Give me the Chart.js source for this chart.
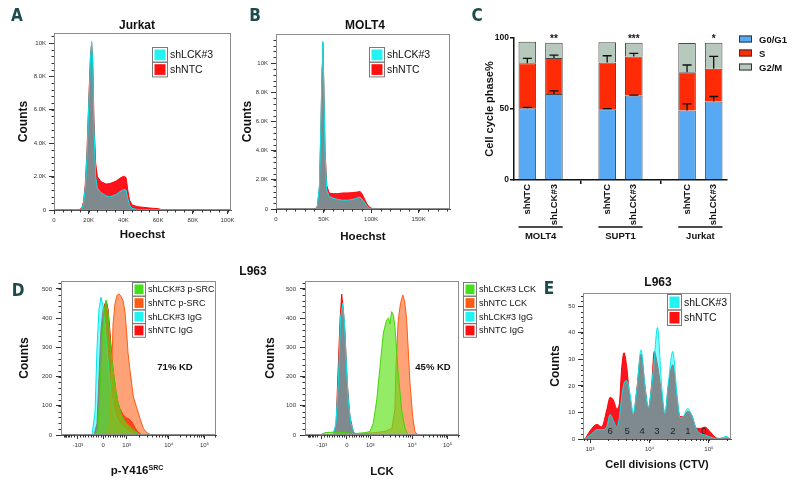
<!DOCTYPE html>
<html>
<head>
<meta charset="utf-8">
<script src="https://cdn.jsdelivr.net/npm/chart.js@4.4.1/dist/chart.umd.min.js"></script>
<style>
body { margin: 0; background: #fff; }
#page { position: relative; width: 795px; height: 481px; overflow: hidden; font-family: "Liberation Sans", Arial, sans-serif; color: #111; }
canvas { position: absolute; }
.lbl { position: absolute; white-space: nowrap; transform: translate(-50%, -50%); }
.letter { font-family: "DejaVu Sans Condensed", "DejaVu Sans", sans-serif; font-weight: bold; font-size: 17px; color: #1d4b4c; }
.ttl { font-weight: bold; font-size: 12px; }
.axt { font-weight: bold; font-size: 11.5px; }
.axt sup { font-size: 7px; }
</style>
</head>
<body>
<div id="page">
  <canvas id="chartA" width="245" height="250" style="left:0;top:0"></canvas>
  <canvas id="chartB" width="225" height="250" style="left:237px;top:0"></canvas>
  <canvas id="chartC" width="317" height="250" style="left:478px;top:0"></canvas>
  <canvas id="chartD1" width="230" height="219" style="left:0;top:262px"></canvas>
  <canvas id="chartD2" width="280" height="219" style="left:262px;top:262px"></canvas>
  <canvas id="chartE" width="255" height="219" style="left:540px;top:262px"></canvas>

  <div class="lbl letter" style="left:17px;top:15px">A</div>
  <div class="lbl letter" style="left:255px;top:15px">B</div>
  <div class="lbl letter" style="left:477px;top:15px">C</div>
  <div class="lbl letter" style="left:18px;top:290px">D</div>
  <div class="lbl letter" style="left:549px;top:288px">E</div>

  <div class="lbl ttl" style="left:137px;top:25px">Jurkat</div>
  <div class="lbl ttl" style="left:365px;top:25px">MOLT4</div>
  <div class="lbl ttl" style="left:253px;top:271px">L963</div>
  <div class="lbl ttl" style="left:658px;top:282px">L963</div>
  <div class="lbl axt" style="left:137px;top:470px">p-Y416<sup>SRC</sup></div>
</div>

<script>
const FONT = '"Liberation Sans", Arial, sans-serif';
Chart.defaults.font.family = FONT;
Chart.defaults.color = '#222';

// ===============================
// Data
// ===============================

// A: Jurkat, Hoechst (K) vs counts (K)
const jurkatX   = [0, 14, 16, 17, 18, 19, 20, 21, 21.7, 22.3, 23, 24, 25, 27, 30, 32, 34, 36, 38, 40, 41.5, 42.5, 43.5, 45, 48, 55, 60, 62, 70, 102];
const jurkatNTC = [0, 0, 0.1, 0.5, 1.5, 3.5, 6.5, 9.2, 10.0, 9.0, 5.5, 2.8, 2.0, 1.7, 1.55, 1.58, 1.65, 1.75, 1.9, 2.02, 1.95, 1.2, 0.6, 0.3, 0.2, 0.12, 0.08, 0.02, 0, 0];
const jurkatLCK = [0, 0, 0.05, 0.4, 1.3, 3.2, 6.2, 9.0, 10.1, 8.8, 5.0, 2.0, 1.3, 1.05, 0.85, 0.8, 0.85, 0.95, 1.1, 1.22, 1.2, 0.7, 0.3, 0.1, 0.03, 0.02, 0.01, 0, 0, 0];
const jurkatXTicks = [0, 20, 40, 60, 80, 100];
const jurkatXLabels = ['0', '20K', '40K', '60K', '80K', '100K'];

// B: MOLT4
const molt4X   = [0, 40, 42, 43.5, 45.7, 47.1, 48.5, 49.2, 50.3, 51.6, 53.4, 55.9, 60, 65, 70, 75, 80, 84, 87, 88.5, 90.3, 93.8, 95.6, 97.3, 99, 100.8, 104, 183];
const molt4NTC = [0, 0, 0.05, 0.2, 1.5, 5.2, 9.7, 11.4, 8.6, 4.0, 1.6, 1.1, 1.05, 1.05, 1.1, 1.1, 1.12, 1.15, 1.18, 1.2, 1.05, 0.6, 0.35, 0.2, 0.1, 0.05, 0, 0];
const molt4LCK = [0, 0, 0.05, 0.2, 1.6, 5.5, 10, 11.5, 8.5, 3.8, 1.3, 0.85, 0.75, 0.65, 0.6, 0.6, 0.65, 0.72, 0.8, 0.82, 0.7, 0.4, 0.2, 0.1, 0.03, 0.01, 0, 0];
const molt4XTicks = [0, 50, 100, 150];
const molt4XLabels = ['0', '50K', '100K', '150K'];

const countKTicks = [0, 2, 4, 6, 8, 10];
const countKLabels = ['0', '2.0K', '4.0K', '6.0K', '8.0K', '10K'];

// C: cell cycle phases (%)
const cycleLabels = ['shNTC', 'shLCK#3', '', 'shNTC', 'shLCK#3', '', 'shNTC', 'shLCK#3'];
const cycleGroups = ['MOLT4', 'SUPT1', 'Jurkat'];
const g0g1   = [50.6, 60.5, null, 49.9, 59.5, null, 48.9, 55.2];
const sPhase = [31.6, 25.5, null, 32.9, 27.5, null, 26.9, 23.1];
const g2m    = [15.2, 10.7, null, 14.2, 9.7, null, 20.7, 18.4];
const g0g1Err   = [0.5, 2.3, null, 0.3, 0.3, null, 4.7, 3.6];
const sPhaseErr = [3.5, 2.0, null, 4.7, 2.2, null, 5.2, 8.7];
const cycleStars = ['', '**', '', '', '***', '', '', '*'];

// D: flow, x in display channels (0-1024, biexponential)
const flowXTicks = [112, 278, 434, 712, 948];
const flowXLabels = ['-10\u00b3', '0', '10\u00b3', '10\u2074', '10\u2075'];
const flowYTicks = [0, 100, 200, 300, 400, 500];

const srcLckX   = [225, 244, 258, 271, 284, 297, 311, 324, 337, 350, 363, 377, 390, 403, 423, 443, 462, 482, 509, 535];
const srcLckY   = [0, 20, 150, 330, 420, 462, 420, 330, 250, 200, 150, 110, 85, 65, 45, 35, 25, 15, 5, 0];
const srcNtcX   = [311, 324, 334, 344, 357, 370, 383, 396, 410, 423, 434, 443, 456, 478, 496, 511, 529, 544, 562, 577, 601];
const srcNtcY   = [0, 40, 200, 380, 450, 478, 483, 475, 460, 420, 349, 280, 220, 131, 100, 75, 45, 23, 10, 5, 0];
const srcIgLckX = [205, 225, 238, 251, 264, 278, 291, 304, 317, 330, 344, 363, 390, 423, 456, 489];
const srcIgLckY = [0, 80, 300, 430, 472, 440, 380, 300, 220, 150, 100, 60, 35, 20, 8, 0];
const srcIgNtcX = [218, 238, 251, 264, 278, 291, 301, 311, 324, 337, 350, 363, 377, 390, 410, 429, 449, 469, 489, 509, 535];
const srcIgNtcY = [0, 40, 200, 360, 430, 450, 456, 430, 350, 260, 200, 150, 110, 90, 70, 60, 55, 45, 25, 10, 0];

const lckLckX   = [100, 133, 199, 266, 332, 399, 432, 454, 477, 499, 521, 543, 555, 565, 576, 588, 598, 620, 643, 665, 685];
const lckLckY   = [0, 8, 10, 8, 5, 8, 12, 40, 120, 234, 349, 394, 400, 380, 422, 410, 371, 211, 86, 23, 0];
const lckNtcX   = [299, 366, 465, 532, 578, 598, 605, 620, 635, 650, 662, 676, 698, 716, 731, 753];
const lckNtcY   = [0, 4, 8, 12, 23, 90, 234, 394, 450, 479, 460, 394, 177, 63, 11, 0];
const lckIgLckX = [186, 206, 223, 236, 251, 263, 276, 289, 306, 326, 346];
const lckIgLckY = [0, 40, 200, 400, 451, 380, 230, 110, 40, 8, 0];
const lckIgNtcX = [186, 206, 221, 233, 244, 256, 266, 281, 299, 321, 346];
const lckIgNtcY = [0, 30, 234, 394, 482, 420, 349, 177, 63, 11, 0];

// E: CTV dilution
const ctvX   = [820, 1070, 1300, 1570, 1910, 2170, 2460, 2810, 3110, 3410, 3730, 4140, 4700, 5340, 6090, 7200, 8400, 9550, 10900, 12000, 13600, 16000, 18200, 20700, 24600, 28700, 32600, 37000, 43900, 51200, 62100, 72600, 85700, 104000, 126000, 153000, 198000, 225000];
const ctvNTC = [0, 4, 5.5, 4.6, 11, 15.7, 14.7, 11.5, 13.4, 27, 32.5, 27, 14.7, 9, 18.4, 32, 19.7, 11.5, 21, 33, 28, 17, 9, 20, 28, 16, 8.4, 8.4, 10.5, 9, 4, 4, 4.5, 2.8, 0.8, 0, 0.5, 0];
const ctvLCK = [0, 2, 3.5, 3.5, 4.6, 9.2, 7, 4.5, 8, 16, 21, 22, 17, 10, 18, 33.5, 19.7, 12, 20, 30, 42, 20, 9.5, 21, 33, 18, 8, 8.5, 11.5, 9, 3.5, 2, 1.5, 0.8, 0.3, 0.3, 1, 0];
const ctvXTicks = [1000, 10000, 100000];
const ctvXLabels = ['10\u00b3', '10\u2074', '10\u2075'];
const ctvYTicks = [0, 10, 20, 30, 40, 50];
const divisionLabels = ['6', '5', '4', '3', '2', '1', '0'];
const divisionPos = [2170, 4190, 7480, 13360, 24800, 44400, 82400];

// ===============================
// Small plugins
// ===============================
const frame = {
    id: 'frame',
    afterDatasetsDraw(chart, args, o) {
        if (!o.color) return;
        const a = chart.chartArea, ctx = chart.ctx;
        ctx.save();
        ctx.strokeStyle = o.color;
        ctx.lineWidth = 1;
        ctx.strokeRect(a.left + 0.5, a.top + 0.5, a.right - a.left - 1, a.bottom - a.top - 1);
        ctx.restore();
    }
};

const minorTicks = {
    id: 'minorTicks',
    afterDraw(chart, args, o) {
        const ctx = chart.ctx, a = chart.chartArea;
        const xs = chart.scales.x, ys = chart.scales.y;
        const len = o.len || 2.5;
        const xTick = p => {
            p = Math.round(p) + 0.5;
            ctx.beginPath(); ctx.moveTo(p, a.bottom); ctx.lineTo(p, a.bottom + len); ctx.stroke();
        };
        ctx.save();
        ctx.strokeStyle = '#333';
        ctx.lineWidth = 1;
        if (o.yStep) {
            for (let v = Math.ceil(ys.min / o.yStep) * o.yStep; v <= ys.max; v += o.yStep) {
                const p = Math.round(ys.getPixelForValue(v)) + 0.5;
                ctx.beginPath(); ctx.moveTo(a.left, p); ctx.lineTo(a.left - len, p); ctx.stroke();
            }
        }
        if (o.xStep) {
            for (let v = Math.ceil(xs.min / o.xStep) * o.xStep; v <= xs.max; v += o.xStep) {
                xTick(xs.getPixelForValue(v));
            }
        }
        if (o.xLog) {
            for (let d = 100; d <= 1e6; d *= 10) {
                for (let k = 1; k < 10; k++) {
                    const v = d * k;
                    if (v < xs.min || v > xs.max) continue;
                    xTick(xs.getPixelForValue(v));
                }
            }
        }
        // biexponential axis: linear minors around zero, log minors per decade
        if (o.xBiex) {
            const t = o.xBiex;
            for (let k = 1; k < 10; k++) {
                xTick(xs.getPixelForValue(t[0] + (t[1] - t[0]) * k / 10));
                xTick(xs.getPixelForValue(t[1] + (t[2] - t[1]) * k / 10));
            }
            for (let j = 2; j < t.length; j++) {
                const span = j < t.length - 1 ? t[j + 1] - t[j] : t[j] - t[j - 1];
                for (let k = 2; k < 10; k++) {
                    const v = t[j] + span * Math.log10(k);
                    if (v <= xs.max) xTick(xs.getPixelForValue(v));
                }
            }
            for (let k = 2; k < 10; k++) {
                xTick(xs.getPixelForValue(t[0] - (t[3] - t[2]) * Math.log10(k) * 0.35));
            }
        }
        ctx.restore();
    }
};

const swatchLegend = {
    id: 'swatchLegend',
    afterDraw(chart, args, o) {
        if (!o.items) return;
        const ctx = chart.ctx;
        ctx.save();
        o.items.forEach((it, i) => {
            const top = o.y + i * o.row;
            let textX;
            if (o.cell) {
                ctx.strokeStyle = '#7a7a7a';
                ctx.lineWidth = 1;
                ctx.strokeRect(o.x + 0.5, top + 0.5, o.cell, o.row);
                ctx.fillStyle = it.color;
                ctx.fillRect(o.x + 2.5, top + 2.5, o.cell - 4, o.row - 4);
                textX = o.x + o.cell + o.gap;
            } else {
                const sy = top + (o.row - o.sh) / 2;
                ctx.fillStyle = it.color;
                ctx.fillRect(o.x, sy, o.sw, o.sh);
                ctx.strokeStyle = '#333';
                ctx.lineWidth = 1;
                ctx.strokeRect(o.x + 0.5, sy + 0.5, o.sw - 1, o.sh - 1);
                textX = o.x + o.sw + o.gap;
            }
            ctx.fillStyle = '#111';
            ctx.font = o.font;
            ctx.textAlign = 'left';
            ctx.textBaseline = 'middle';
            ctx.fillText(it.label, textX, top + o.row / 2 + 1);
        });
        ctx.restore();
    }
};

const notes = {
    id: 'notes',
    afterDraw(chart, args, o) {
        if (!o.items) return;
        const ctx = chart.ctx;
        o.items.forEach(n => {
            ctx.save();
            ctx.font = n.font;
            ctx.fillStyle = n.color || '#111';
            ctx.textAlign = n.align || 'center';
            ctx.textBaseline = n.baseline || 'middle';
            const px = n.px !== undefined ? n.px : chart.scales.x.getPixelForValue(n.x);
            const py = n.py !== undefined ? n.py : chart.scales.y.getPixelForValue(n.y);
            ctx.fillText(n.text, px, py);
            ctx.restore();
        });
    }
};

const errorBars = {
    id: 'errorBars',
    afterDatasetsDraw(chart, args, o) {
        if (!o.errors) return;
        const ctx = chart.ctx, ys = chart.scales.y;
        const unit = ys.getPixelForValue(0) - ys.getPixelForValue(1);
        ctx.save();
        ctx.strokeStyle = '#111';
        ctx.lineWidth = 1.3;
        o.errors.forEach((errs, di) => {
            const meta = chart.getDatasetMeta(di);
            errs.forEach((e, i) => {
                if (!e) return;
                const bar = meta.data[i];
                const end = bar.y - e * unit;
                ctx.beginPath();
                ctx.moveTo(bar.x, bar.y);
                ctx.lineTo(bar.x, end);
                ctx.moveTo(bar.x - 4.5, end);
                ctx.lineTo(bar.x + 4.5, end);
                ctx.stroke();
            });
        });
        ctx.restore();
    }
};

const groupLabels = {
    id: 'groupLabels',
    afterDraw(chart, args, o) {
        if (!o.groups) return;
        const ctx = chart.ctx;
        const meta = chart.getDatasetMeta(0);
        ctx.save();
        o.groups.forEach(g => {
            const b0 = meta.data[g.from], b1 = meta.data[g.to];
            const l = b0.x - b0.width / 2, r = b1.x + b1.width / 2;
            ctx.strokeStyle = '#111';
            ctx.lineWidth = 1.5;
            ctx.beginPath(); ctx.moveTo(l, o.lineY); ctx.lineTo(r, o.lineY); ctx.stroke();
            ctx.fillStyle = '#111';
            ctx.font = o.font;
            ctx.textAlign = 'center';
            ctx.textBaseline = 'middle';
            ctx.fillText(g.label, (l + r) / 2, o.textY);
        });
        ctx.restore();
    }
};

// ===============================
// Helpers
// ===============================
function area(label, xs, ys, line, fill, smooth) {
    return {
        label: label,
        data: xs.map((x, i) => ({ x: x, y: ys[i] })),
        borderColor: line,
        backgroundColor: fill,
        borderWidth: 1,
        pointRadius: 0,
        tension: 0,
        cubicInterpolationMode: smooth ? 'monotone' : 'default',
        fill: 'origin'
    };
}

function histChart(id, c) {
    return new Chart(document.getElementById(id), {
        type: 'line',
        data: { datasets: c.datasets },
        plugins: [frame, minorTicks, swatchLegend, notes],
        options: {
            responsive: false,
            animation: false,
            events: [],
            layout: { padding: c.padding },
            scales: {
                x: {
                    type: c.xType || 'linear',
                    min: c.xMin,
                    max: c.xMax,
                    afterFit: s => { s.height = c.xHeight; },
                    afterBuildTicks: s => { s.ticks = c.xTicks.map(v => ({ value: v })); },
                    ticks: {
                        autoSkip: false, maxRotation: 0,
                        callback: (v, i) => c.xLabels[i],
                        font: { size: 6 }, color: '#333', padding: 3
                    },
                    grid: { drawOnChartArea: false, tickLength: 4, color: '#333' },
                    border: { color: '#555', width: 1 },
                    title: {
                        display: !!c.xTitle, text: c.xTitle, color: '#111',
                        font: { size: c.xTitleSize || 11.5, weight: 'bold' },
                        padding: { top: 0, bottom: c.xTitlePad }
                    }
                },
                y: {
                    type: 'linear',
                    min: 0,
                    max: c.yMax,
                    afterFit: s => { s.width = c.yWidth; },
                    afterBuildTicks: s => { s.ticks = c.yTicks.map(v => ({ value: v })); },
                    ticks: {
                        autoSkip: false,
                        callback: (v, i) => c.yLabels[i],
                        font: { size: 6 }, color: '#333', padding: c.yTickPad || 3
                    },
                    grid: { drawOnChartArea: false, tickLength: 5, color: '#333' },
                    border: { color: '#555', width: 1 },
                    title: {
                        display: true, text: 'Counts', color: '#111',
                        font: { size: 12, weight: 'bold' },
                        padding: { top: c.yTitlePad, bottom: 0 }
                    }
                }
            },
            plugins: {
                legend: { display: false },
                tooltip: { enabled: false },
                frame: { color: '#8c8c8c' },
                minorTicks: c.minor || {},
                swatchLegend: c.legend,
                notes: { items: c.notes || [] }
            }
        }
    });
}

const CYAN_LINE = 'rgb(0,230,235)', CYAN_FILL = 'rgba(0,255,255,0.5)';
const RED_LINE = 'rgb(255,0,0)', RED_FILL = 'rgb(255,20,30)';

// ===============================
// A: Jurkat
// ===============================
histChart('chartA', {
    datasets: [
        area('shLCK#3', jurkatX, jurkatLCK, CYAN_LINE, CYAN_FILL),
        area('shNTC', jurkatX, jurkatNTC, RED_LINE, RED_FILL)
    ],
    padding: { top: 33, right: 14, left: 0, bottom: 0 },
    xMin: 0, xMax: 102, xHeight: 40, xTicks: jurkatXTicks, xLabels: jurkatXLabels,
    xTitle: 'Hoechst', xTitlePad: 8,
    yMax: 10.6, yWidth: 54, yTicks: countKTicks, yLabels: countKLabels, yTitlePad: 16,
    minor: { xStep: 5, yStep: 0.4 },
    legend: {
        x: 152, y: 47, cell: 15, row: 14.7, gap: 3, font: '10.5px ' + FONT,
        items: [{ label: 'shLCK#3', color: '#22f2f2' }, { label: 'shNTC', color: '#ff1010' }]
    }
});

// ===============================
// B: MOLT4
// ===============================
histChart('chartB', {
    datasets: [
        area('shLCK#3', molt4X, molt4LCK, CYAN_LINE, CYAN_FILL),
        area('shNTC', molt4X, molt4NTC, RED_LINE, RED_FILL)
    ],
    padding: { top: 34, right: 12, left: 0, bottom: 0 },
    xMin: 0, xMax: 183, xHeight: 41, xTicks: molt4XTicks, xLabels: molt4XLabels,
    xTitle: 'Hoechst', xTitlePad: 6,
    yMax: 12, yWidth: 39, yTicks: countKTicks, yLabels: countKLabels, yTitlePad: 3,
    minor: { xStep: 10, yStep: 0.4 },
    legend: {
        x: 132, y: 47, cell: 15, row: 14.7, gap: 3, font: '10.5px ' + FONT,
        items: [{ label: 'shLCK#3', color: '#22f2f2' }, { label: 'shNTC', color: '#ff1010' }]
    }
});

// ===============================
// C: Cell cycle (stacked bars)
// ===============================
const BLUE = '#56a9f2', RED = '#ff2a06', SAGE = '#b7c9bd';
new Chart(document.getElementById('chartC'), {
    type: 'bar',
    data: {
        labels: cycleLabels,
        datasets: [
            { label: 'G0/G1', data: g0g1, backgroundColor: BLUE, borderColor: '#4a4a4a', borderWidth: 1 },
            { label: 'S', data: sPhase, backgroundColor: RED, borderColor: '#4a4a4a', borderWidth: 1 },
            { label: 'G2/M', data: g2m, backgroundColor: SAGE, borderColor: '#4a4a4a', borderWidth: 1 }
        ]
    },
    plugins: [errorBars, swatchLegend, notes, groupLabels],
    options: {
        responsive: false,
        animation: false,
        events: [],
        layout: { padding: { top: 38, right: 68, left: 0, bottom: 0 } },
        datasets: { bar: { categoryPercentage: 1, barPercentage: 0.66 } },
        scales: {
            x: {
                stacked: true,
                afterFit: s => { s.height = 70; },
                ticks: {
                    autoSkip: false, minRotation: 90, maxRotation: 90,
                    font: { size: 9.5, weight: 'bold' }, color: '#111', padding: 0
                },
                grid: {
                    offset: false, drawOnChartArea: false, tickLength: 4, lineWidth: 1.5,
                    color: ctx => (cycleLabels[ctx.index] === '' ? '#111' : 'rgba(0,0,0,0)')
                },
                border: { color: '#111', width: 1.5 }
            },
            y: {
                stacked: true,
                min: 0,
                max: 100,
                afterFit: s => { s.width = 36; },
                afterBuildTicks: s => { s.ticks = [0, 50, 100].map(v => ({ value: v })); },
                ticks: { font: { size: 8.5, weight: 'bold' }, color: '#111', padding: 1 },
                grid: { drawOnChartArea: false, tickLength: 4, lineWidth: 1.5, color: '#111' },
                border: { color: '#111', width: 1.5 },
                title: {
                    display: true, text: 'Cell cycle phase%', color: '#111',
                    font: { size: 11, weight: 'bold' }, padding: { top: 5, bottom: 0 }
                }
            }
        },
        plugins: {
            legend: { display: false },
            tooltip: { enabled: false },
            errorBars: { errors: [g0g1Err, sPhaseErr] },
            swatchLegend: {
                x: 261, y: 32, row: 14, sw: 13, sh: 7, gap: 7, font: 'bold 9.5px ' + FONT,
                items: [{ label: 'G0/G1', color: BLUE }, { label: 'S', color: RED }, { label: 'G2/M', color: SAGE }]
            },
            notes: {
                items: cycleStars.map((t, i) => ({ text: t, x: i, y: 97, baseline: 'alphabetic', font: 'bold 10px ' + FONT }))
            },
            groupLabels: {
                lineY: 227, textY: 236, font: 'bold 9.5px ' + FONT,
                groups: [
                    { label: cycleGroups[0], from: 0, to: 1 },
                    { label: cycleGroups[1], from: 3, to: 4 },
                    { label: cycleGroups[2], from: 6, to: 7 }
                ]
            }
        }
    }
});

// ===============================
// D: L963 flow (p-SRC, LCK)
// ===============================
const GREEN_LINE = 'rgb(70,210,10)', GREEN_FILL = 'rgba(90,225,20,0.65)';
const ORANGE_LINE = 'rgb(255,90,20)', ORANGE_FILL = 'rgba(255,100,30,0.6)';

histChart('chartD1', {
    datasets: [
        area('shLCK#3 p-SRC', srcLckX, srcLckY, GREEN_LINE, GREEN_FILL),
        area('shNTC p-SRC', srcNtcX, srcNtcY, ORANGE_LINE, ORANGE_FILL),
        area('shLCK#3 IgG', srcIgLckX, srcIgLckY, CYAN_LINE, CYAN_FILL),
        area('shNTC IgG', srcIgNtcX, srcIgNtcY, RED_LINE, RED_FILL)
    ],
    padding: { top: 19, right: 14, left: 0, bottom: 0 },
    xMin: 0, xMax: 1024, xHeight: 46, xTicks: flowXTicks, xLabels: flowXLabels,
    yMax: 527, yWidth: 61, yTicks: flowYTicks, yLabels: flowYTicks.map(String), yTitlePad: 17, yTickPad: 4,
    minor: { yStep: 20, xBiex: flowXTicks, len: 2.5 },
    legend: {
        x: 132, y: 20, cell: 13, row: 13.7, gap: 3, font: '9px ' + FONT,
        items: [
            { label: 'shLCK#3 p-SRC', color: '#44e01a' },
            { label: 'shNTC p-SRC', color: '#ff5a14' },
            { label: 'shLCK#3 IgG', color: '#22f2f2' },
            { label: 'shNTC IgG', color: '#ff1010' }
        ]
    },
    notes: [{ text: '71% KD', px: 175, py: 105, font: 'bold 9.5px ' + FONT }]
});

histChart('chartD2', {
    datasets: [
        area('shLCK#3 LCK', lckLckX, lckLckY, GREEN_LINE, GREEN_FILL),
        area('shNTC LCK', lckNtcX, lckNtcY, ORANGE_LINE, ORANGE_FILL),
        area('shLCK#3 IgG', lckIgLckX, lckIgLckY, CYAN_LINE, CYAN_FILL),
        area('shNTC IgG', lckIgNtcX, lckIgNtcY, RED_LINE, RED_FILL)
    ],
    padding: { top: 19, right: 83, left: 0, bottom: 0 },
    xMin: 0, xMax: 1024, xHeight: 46, xTicks: flowXTicks, xLabels: flowXLabels,
    xTitle: 'LCK', xTitlePad: 2,
    yMax: 527, yWidth: 43, yTicks: flowYTicks, yLabels: flowYTicks.map(String), yTitlePad: 1, yTickPad: 4,
    minor: { yStep: 20, xBiex: flowXTicks, len: 2.5 },
    legend: {
        x: 201, y: 20, cell: 13, row: 13.7, gap: 3, font: '9px ' + FONT,
        items: [
            { label: 'shLCK#3 LCK', color: '#44e01a' },
            { label: 'shNTC LCK', color: '#ff5a14' },
            { label: 'shLCK#3 IgG', color: '#22f2f2' },
            { label: 'shNTC IgG', color: '#ff1010' }
        ]
    },
    notes: [{ text: '45% KD', px: 171, py: 105, font: 'bold 9.5px ' + FONT }]
});

// ===============================
// E: L963 CTV proliferation
// ===============================
histChart('chartE', {
    datasets: [
        area('shLCK#3', ctvX, ctvLCK, CYAN_LINE, CYAN_FILL, true),
        area('shNTC', ctvX, ctvNTC, RED_LINE, RED_FILL, true)
    ],
    padding: { top: 31, right: 64, left: 0, bottom: 0 },
    xType: 'logarithmic', xMin: 760, xMax: 235000, xHeight: 42, xTicks: ctvXTicks, xLabels: ctvXLabels,
    xTitle: 'Cell divisions (CTV)', xTitleSize: 11, xTitlePad: 9,
    yMax: 55, yWidth: 43, yTicks: ctvYTicks, yLabels: ctvYTicks.map(String), yTitlePad: 8,
    minor: { xLog: true, yStep: 2, len: 2 },
    legend: {
        x: 127, y: 32, cell: 14, row: 15.5, gap: 3, font: '10.5px ' + FONT,
        items: [{ label: 'shLCK#3', color: '#22f2f2' }, { label: 'shNTC', color: '#ff1010' }]
    },
    notes: divisionLabels.map((t, i) => ({ text: t, x: divisionPos[i], y: 3, font: '9.5px ' + FONT, color: '#222' }))
});
</script>
</body>
</html>
